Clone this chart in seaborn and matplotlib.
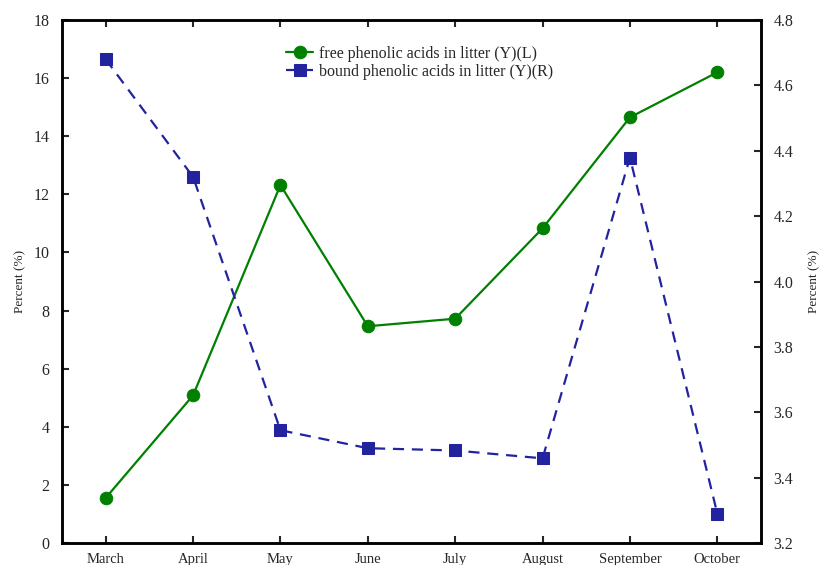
import matplotlib
matplotlib.use("Agg")
import matplotlib.pyplot as plt
import seaborn as sns
import pandas as pd

months = ["March", "April", "May", "June", "July", "August", "September", "October"]
free_vals = [1.55, 5.08, 12.32, 7.46, 7.72, 10.83, 14.65, 16.2]
bound_vals = [4.68, 4.32, 3.545, 3.49, 3.483, 3.459, 4.379, 3.29]
left_ticks = [0, 2, 4, 6, 8, 10, 12, 14, 16, 18]
right_ticks = [3.2, 3.4, 3.6, 3.8, 4.0, 4.2, 4.4, 4.6, 4.8]
free_label = "free phenolic acids in litter (Y)(L)"
bound_label = "bound phenolic acids in litter (Y)(R)"

sns.set_style("ticks")
plt.rcParams['font.family'] = ['Liberation Serif', 'DejaVu Serif']
plt.rcParams['xtick.direction'] = 'in'
plt.rcParams['ytick.direction'] = 'in'

df = pd.DataFrame({"x": list(range(len(months))), "free": free_vals, "bound": bound_vals})

W, H = 819, 565
fig = plt.figure(figsize=(W/100, H/100), dpi=100)
ax = fig.add_axes([62/W, 1 - 543/H, (761-62)/W, (543-20)/H])
ax2 = ax.twinx()

green = "#008000"
blue = "#2323a0"

sns.lineplot(data=df, x="x", y="free", ax=ax, color=green, marker="o", markersize=9,
             markeredgecolor=green, linewidth=1.6, label=free_label, legend=False)
sns.lineplot(data=df, x="x", y="bound", ax=ax2, color=blue, marker="s", markersize=9,
             markeredgecolor=blue, linewidth=1.6, label=bound_label, legend=False)
ax2.lines[0].set_dashes([5, 3.5])

ax.set_xlim(-0.5, 7.5)
ax.set_ylim(0, 18)
ax2.set_ylim(3.2, 4.8)
ax.set_xticks(range(len(months)))
ax.set_xticklabels(months, fontsize=10.5)
ax.set_yticks(left_ticks)
ax.set_yticklabels([str(t) for t in left_ticks], fontsize=11.5)
ax2.set_yticks(right_ticks)
ax2.set_yticklabels([f"{t:.1f}" for t in right_ticks], fontsize=11.5)
ax.set_xlabel("")
ax.set_ylabel("Percent (%)", fontsize=9.5)
ax2.set_ylabel("Percent (%)", fontsize=9.5, rotation=90)
ax.yaxis.set_label_coords((26 - 62) / (761 - 62), 0.5)
ax2.yaxis.set_label_coords((808 - 62) / (761 - 62), 0.5)
ax.tick_params(axis='x', top=True, direction='in', length=5, width=1.5, pad=7)
ax.tick_params(axis='y', direction='in', length=5, width=1.5, pad=9)
ax2.tick_params(axis='y', direction='in', length=5, width=1.5, pad=9)

for a in (ax, ax2):
    for s in a.spines.values():
        s.set_visible(True)
        s.set_linewidth(1.8)
        s.set_color("black")

h1, l1 = ax.get_legend_handles_labels()
h2, l2 = ax2.get_legend_handles_labels()
ax.legend(h1 + h2, l1 + l2, loc="upper left", bbox_to_anchor=((286 - 62) / 699, (543 - 46) / 523),
          frameon=False, fontsize=11.5, handlelength=1.7, handletextpad=0.35,
          labelspacing=0.1, borderpad=0.0, borderaxespad=0.0)

fig.savefig("out.png", dpi=100)
